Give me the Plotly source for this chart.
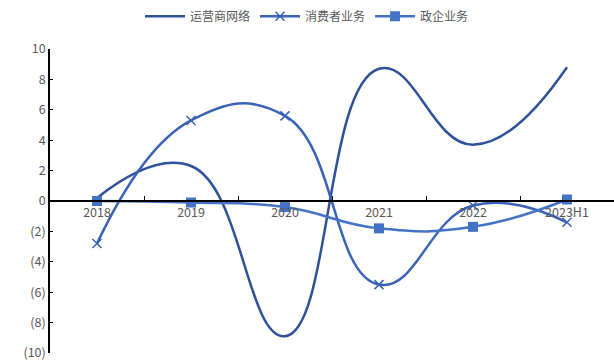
import plotly.graph_objects as go

categories = ["2018", "2019", "2020", "2021", "2022", "2023H1"]
operator_network = [0.2, 2.3, -8.9, 8.7, 3.7, 8.8]
consumer_business = [-2.8, 5.3, 5.6, -5.5, -0.3, -1.4]
enterprise_business = [0.0, -0.1, -0.4, -1.8, -1.7, 0.1]

y_ticks = [10, 8, 6, 4, 2, 0, -2, -4, -6, -8, -10]
y_tick_text = [str(v) if v >= 0 else f"({-v})" for v in y_ticks]

y_min, y_max = -10, 10

fig = go.Figure()
fig.add_trace(go.Scatter(
    x=categories, y=operator_network, name="运营商网络", mode="lines",
    line=dict(color="#30509a", width=2.5, shape="spline", smoothing=1.3),
))
fig.add_trace(go.Scatter(
    x=categories, y=consumer_business, name="消费者业务", mode="lines+markers",
    line=dict(color="#3a62b6", width=2.5, shape="spline", smoothing=1.3),
    marker=dict(symbol="x-thin", size=9, line=dict(color="#3a62b6", width=1.5)),
))
fig.add_trace(go.Scatter(
    x=categories, y=enterprise_business, name="政企业务", mode="lines+markers",
    line=dict(color="#4472c4", width=2.5, shape="spline", smoothing=1.3),
    marker=dict(symbol="square", size=10, color="#4472c4"),
))

fig.update_layout(
    width=614, height=363,
    margin=dict(l=50, r=0, t=49, b=10, autoexpand=False),
    paper_bgcolor="white", plot_bgcolor="white",
    font=dict(family="Noto Sans CJK SC, Noto Sans, sans-serif", size=12, color="#595959"),
    legend=dict(orientation="h", x=0.5, xanchor="center", xref="container",
                y=0.955, yanchor="middle", yref="container",
                font=dict(size=12, color="#595959"), itemwidth=40, tracegroupgap=0),
    showlegend=True,
    xaxis=dict(
        type="category", range=[-0.5, 5.5],
        anchor="free", position=(0 - y_min) / (y_max - y_min),
        showline=True, linecolor="black", linewidth=1.5,
        ticks="inside", ticklen=4, tickcolor="black", tickson="boundaries",
        showgrid=False, zeroline=False,
        tickfont=dict(size=12.5, color="#595959"),
    ),
    yaxis=dict(
        range=[y_min, y_max], tickvals=y_ticks, ticktext=y_tick_text,
        showline=True, linecolor="black", linewidth=1.5,
        ticks="inside", ticklen=3, tickcolor="black",
        showgrid=False, zeroline=False,
        tickfont=dict(size=12.5, color="#595959"),
    ),
)

fig.write_html("out.html")
